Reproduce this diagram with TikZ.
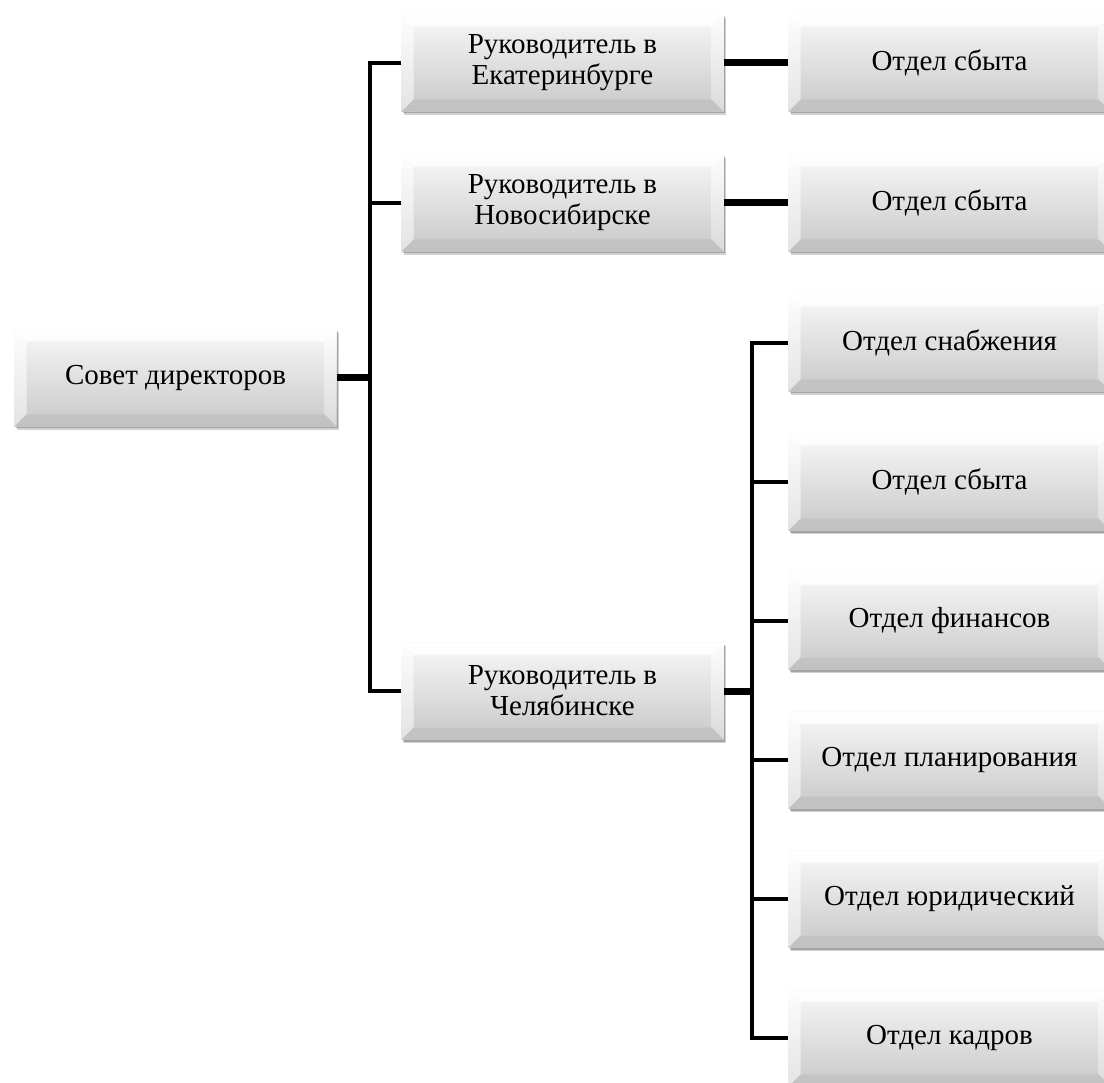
\documentclass[tikz,border=0pt]{standalone}
\usepackage{fontspec}
\setmainfont{Liberation Serif}
\usetikzlibrary{shadows,calc}
\definecolor{boxtop}{RGB}{248,248,248}
\definecolor{boxlow}{RGB}{200,200,200}
\definecolor{bevright}{RGB}{222,222,222}
\definecolor{bevbottom}{RGB}{188,188,188}
\tikzset{
  bevelbox/.style={
    minimum width=322pt, minimum height=97pt, inner sep=0pt, align=center,
    font=\fontsize{29}{31}\selectfont, draw=none,
    top color=boxtop, bottom color=boxlow,
    general shadow={shadow xshift=2.5pt, shadow yshift=-3.5pt, opacity=0.18, fill=black},
    general shadow={shadow xshift=1.5pt, shadow yshift=-2pt, opacity=0.22, fill=black},
    path picture={
      \coordinate (nw) at (path picture bounding box.north west);
      \coordinate (ne) at (path picture bounding box.north east);
      \coordinate (sw) at (path picture bounding box.south west);
      \coordinate (se) at (path picture bounding box.south east);
      \fill[white, opacity=0.9] (nw) -- (ne) -- ($(ne)+(-12pt,-12pt)$) -- ($(nw)+(12pt,-12pt)$) -- cycle;
      \shade[top color=white, bottom color=white!92!black, opacity=0.8] (nw) -- (sw) -- ($(sw)+(12pt,12pt)$) -- ($(nw)+(12pt,-12pt)$) -- cycle;
      \shade[top color=white, bottom color=bevright, opacity=0.85] (ne) -- (se) -- ($(se)+(-12pt,12pt)$) -- ($(ne)+(-12pt,-12pt)$) -- cycle;
      \fill[bevbottom, opacity=0.55] (sw) -- (se) -- ($(se)+(-12pt,12pt)$) -- ($(sw)+(12pt,12pt)$) -- cycle;
    }},
  thickline/.style={line width=7pt},
  thinline/.style={line width=4.5pt, line join=miter}
}
\begin{document}
\begin{tikzpicture}[x=1pt,y=-1pt]
\useasboundingbox[fill=white] (0,0) rectangle (1104,1083);
\node[bevelbox] (sd) at (175.5,378) {Совет директоров};
\node[bevelbox] (r1) at (562.5,63) {Руководитель в\\Екатеринбурге};
\node[bevelbox] (r2) at (562.5,203) {Руководитель в\\Новосибирске};
\node[bevelbox] (r3) at (562.5,691) {Руководитель в\\Челябинске};
\node[bevelbox] (o1) at (949.5,63) {Отдел сбыта};
\node[bevelbox] (o2) at (949.5,203) {Отдел сбыта};
\node[bevelbox] (d1) at (949.5,343) {Отдел снабжения};
\node[bevelbox] (d2) at (949.5,482) {Отдел сбыта};
\node[bevelbox] (d3) at (949.5,621) {Отдел финансов};
\node[bevelbox] (d4) at (949.5,760) {Отдел планирования};
\node[bevelbox] (d5) at (949.5,899) {Отдел юридический};
\node[bevelbox] (d6) at (949.5,1038) {Отдел кадров};
\coordinate (j1) at (370,378);
\coordinate (j2) at (752,691);
\draw[thickline] (sd.east) -- (j1);
\draw[thinline] (r1.west) -| (j1) |- (r3.west);
\draw[thinline] (r2.west) -- (r2.west -| j1);
\draw[thickline] (r1.east) -- (o1.west);
\draw[thickline] (r2.east) -- (o2.west);
\draw[thickline] (r3.east) -- (j2);
\draw[thinline] (d1.west) -| (j2) |- (d6.west);
\draw[thinline] (d2.west) -- (d2.west -| j2);
\draw[thinline] (d3.west) -- (d3.west -| j2);
\draw[thinline] (d4.west) -- (d4.west -| j2);
\draw[thinline] (d5.west) -- (d5.west -| j2);
\end{tikzpicture}
\end{document}
